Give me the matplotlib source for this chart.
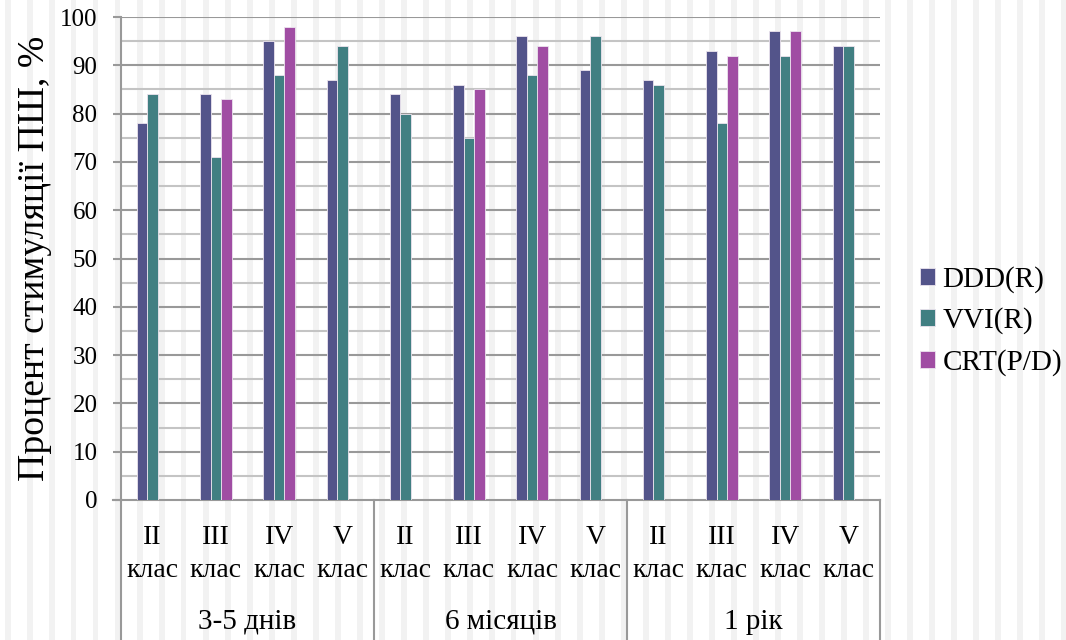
import numpy as np
import matplotlib
matplotlib.use("Agg")
import matplotlib.pyplot as plt
import matplotlib.patches as patches
import matplotlib.transforms as mtransforms

plt.rcParams['font.family'] = ['Liberation Serif', 'DejaVu Serif']

# data
classes = ["II", "III", "IV", "V"]
periods = ["3-5 днів", "6 місяців", "1 рік"]
series_names = ["DDD(R)", "VVI(R)", "CRT(P/D)"]
ddd = [78, 84, 95, 87, 84, 86, 96, 89, 87, 93, 97, 94]
vvi = [84, 71, 88, 94, 80, 75, 88, 96, 86, 78, 92, 94]
crt = [np.nan, 83, 98, np.nan, np.nan, 85, 94, np.nan, np.nan, 92, 97, np.nan]
colors = ["#53548a", "#417f82", "#a04da3"]

W, H = 1066, 640
fig = plt.figure(figsize=(W / 100, H / 100), dpi=100)

# striped background over the whole figure
for k in range(0, W // 22 + 2):
    x0 = 5 + 22 * k
    fig.patches.append(patches.Rectangle((x0 / W, 0), 5.5 / W, 1,
                                         transform=fig.transFigure,
                                         facecolor="#f2f2f2", edgecolor="none",
                                         zorder=-10))

ax = fig.add_axes([121 / W, (H - 500) / H, (880 - 121) / W, (500 - 17) / H])
ax.patch.set_visible(False)

n = len(ddd)
x = np.arange(n)
w = 0.166
for j, (vals, name) in enumerate(zip([ddd, vvi, crt], series_names)):
    ax.bar(x + (j - 1) * w, vals, width=w, color=colors[j], label=name,
           edgecolor="#ece4ee", linewidth=0.6, zorder=3)

ax.set_xlim(-0.5, n - 0.5)
ax.set_ylim(0, 100)

# horizontal grid: every 10 darker, every 5 lighter
for v in range(5, 101, 5):
    col = "#999999" if v % 10 == 0 else "#c4c4c4"
    ax.axhline(v, color=col, linewidth=1.5, zorder=1)

ax.set_yticks(range(0, 101, 10))
ax.tick_params(axis='y', length=6, width=1.5, color="#999999", labelsize=18, pad=11)
ax.set_xticks(x)
ax.set_xticklabels(["%s\nклас" % c for c in classes * len(periods)],
                   fontsize=20, linespacing=1.42)
ax.tick_params(axis='x', length=0, pad=18)

for s in ["top", "right"]:
    ax.spines[s].set_visible(False)
for s in ["left", "bottom"]:
    ax.spines[s].set_color("#999999")
    ax.spines[s].set_linewidth(1.5)

# bottom axis line reaches out past the left spine
ax.plot([-0.5 - 8 / 63.25, -0.5], [0, 0], color="#999999", lw=1.5, clip_on=False)

# group separators and group labels under the axis
trans = mtransforms.blended_transform_factory(ax.transData, ax.transAxes)
depth = 140 / 483
for b in range(len(periods) + 1):
    xb = -0.5 + 4 * b
    ax.plot([xb, xb], [0, -depth], color="#999999", lw=1.5,
            transform=trans, clip_on=False)
for g, label in enumerate(periods):
    ax.text(1.5 + 4 * g, -(622 - 500) / 483, label, transform=trans,
            ha="center", va="center", fontsize=21)

ax.set_ylabel("Процент стимуляції ПШ, %", fontsize=27.2, labelpad=6)

ax.legend(loc="center left", bbox_to_anchor=(920 / W, 1 - 321 / H),
          bbox_transform=fig.transFigure, frameon=False, fontsize=21,
          handlelength=0.52, handleheight=0.52, handletextpad=0.25,
          labelspacing=0.5, borderaxespad=0, borderpad=0)

fig.savefig("out.png", dpi=100)
